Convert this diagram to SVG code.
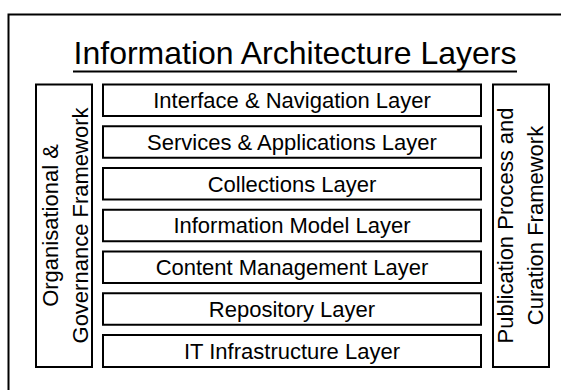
<svg xmlns="http://www.w3.org/2000/svg" width="561" height="390" viewBox="0 0 561 390">
  <style>
    .box { fill: #fff; stroke: #000; stroke-width: 2; }
    .lbl { font-family: "Liberation Sans", Arial, sans-serif; font-size: 22px; fill: #000; text-anchor: middle; }
    .title { font-family: "Liberation Sans", Arial, sans-serif; font-size: 32px; fill: #000; text-anchor: middle; }
  </style>
  <rect x="0" y="0" width="561" height="390" fill="#fff"/>
  <g id="frame">
    <rect class="box" x="8.5" y="14.5" width="600" height="420"/>
  </g>
  <g id="title">
    <text class="title" x="295" y="64">Information Architecture Layers</text>
    <line x1="73" y1="71.5" x2="517" y2="71.5" stroke="#000" stroke-width="2"/>
  </g>
  <g id="governance">
    <rect class="box" x="36" y="84.5" width="56" height="282.5"/>
    <text class="lbl" transform="translate(58,225.5) rotate(-90)">Organisational &amp;</text>
    <text class="lbl" transform="translate(88,225.5) rotate(-90)">Governance Framework</text>
  </g>
  <g id="publication">
    <rect class="box" x="493" y="84.5" width="56" height="282.5"/>
    <text class="lbl" transform="translate(513,225.5) rotate(-90)">Publication Process and</text>
    <text class="lbl" transform="translate(543,225.5) rotate(-90)">Curation Framework</text>
  </g>
  <g id="layer-interface">
    <rect class="box" x="103" y="84.5" width="378" height="31.5"/>
    <text class="lbl" x="292" y="108">Interface &amp; Navigation Layer</text>
  </g>
  <g id="layer-services">
    <rect class="box" x="103" y="126.25" width="378" height="31.5"/>
    <text class="lbl" x="292" y="149.75">Services &amp; Applications Layer</text>
  </g>
  <g id="layer-collections">
    <rect class="box" x="103" y="168" width="378" height="31.5"/>
    <text class="lbl" x="292" y="191.5">Collections Layer</text>
  </g>
  <g id="layer-model">
    <rect class="box" x="103" y="209.75" width="378" height="31.5"/>
    <text class="lbl" x="292" y="233.25">Information Model Layer</text>
  </g>
  <g id="layer-content">
    <rect class="box" x="103" y="251.5" width="378" height="31.5"/>
    <text class="lbl" x="292" y="275">Content Management Layer</text>
  </g>
  <g id="layer-repository">
    <rect class="box" x="103" y="293.25" width="378" height="31.5"/>
    <text class="lbl" x="292" y="316.75">Repository Layer</text>
  </g>
  <g id="layer-it">
    <rect class="box" x="103" y="335" width="378" height="32"/>
    <text class="lbl" x="292" y="358.5">IT Infrastructure Layer</text>
  </g>
  <g id="connectors"/>
</svg>
